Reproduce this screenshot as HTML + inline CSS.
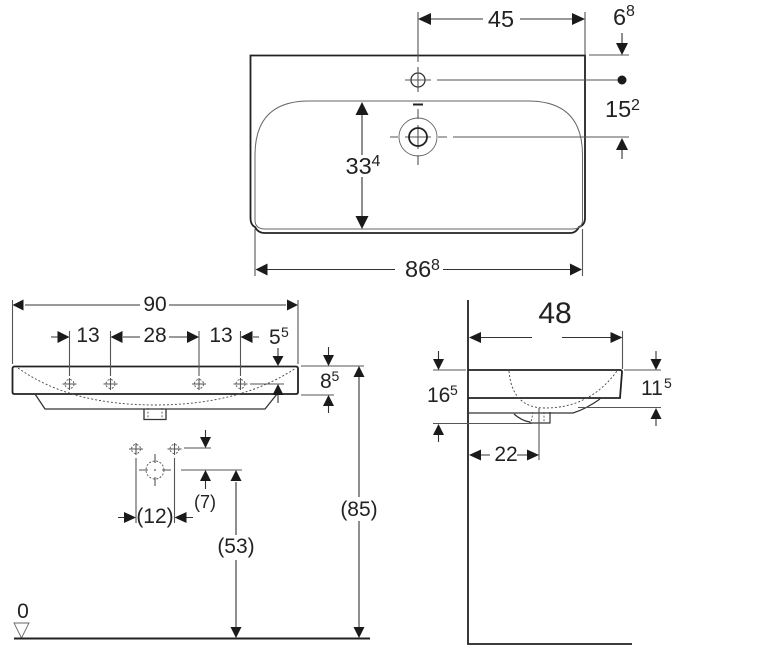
<!DOCTYPE html>
<html><head><meta charset="utf-8"><style>
html,body{margin:0;padding:0;background:#fff}
svg{display:block}
text{font-family:"Liberation Sans",sans-serif;fill:#222}
.t{font-size:23.5px}.s{font-size:16px}.m{font-size:21px}.u{font-size:14px}
.l{stroke:#555;stroke-width:1.1;fill:none}
.d{stroke:#333;stroke-width:1.1;fill:none}
.k{stroke:#222;stroke-width:1.8;fill:none}
.o{stroke:#666;stroke-width:.9;fill:none}
.h{stroke:#555;stroke-width:.9;fill:none;stroke-dasharray:2 1.6}
.a{fill:#1a1a1a;stroke:none}
</style></head><body>
<svg width="780" height="650" viewBox="0 0 780 650" xmlns="http://www.w3.org/2000/svg">
<defs>
<g id="x"><circle r="4.5" class="h"/><path d="M-7 0H7M0-6V6" class="l"/></g>
</defs>

<!-- TOP VIEW -->
<path d="M250.500 218V55.500H585V218Q585 225 579 227Q576 233 570 233H265Q258 233 255 227Q250.500 225 250.500 218Z" class="k"/>
<path d="M255 220V155Q255 101 309 101H528Q582.500 101 582.500 155V220Q582.500 229 572 229H265Q255 229 255 220Z" class="o" style="stroke-width:1"/>
<path d="M418 12V62M585 12V55M589 55H629M437 80H622M453 137H629M255 229V276M582.500 229V276" class="l"/>
<path d="M431 19H483M520 19H573M622 33V44M622 150V159M362 114V155M362 177V217M267 269.500H395M443 269.500H570" class="d"/>
<path class="a" d="M418 19l13-6v12zM585 19l-13-6v12zM622 55l-6-12h12zM622 138l-6 12h12zM362 102l-6.500 13h13zM362 229l-6.500-13h13zM255.500 269.500l12-6v12zM582 269.500l-12-6v12z"/>
<circle cx="622" cy="80" r="4.500" class="a"/>
<circle cx="418" cy="80" r="7" class="d" style="stroke-width:1.300"/>
<path d="M405 80H431M418 67V92M390 137H398M405 137H431M438 137H447M418 109V119M418 125V149M418 155V165" class="l"/>
<path d="M413 104.500H423" stroke="#222" stroke-width="2"/>
<circle cx="418" cy="137" r="19" class="o"/>
<circle cx="418" cy="137" r="9" fill="none" stroke="#222" stroke-width="1.800"/>
<text x="501" y="27" text-anchor="middle" class="t">45</text>
<text x="613" y="25" class="t">6</text><text x="626" y="16" class="s">8</text>
<text x="605" y="117" class="t">15</text><text x="631" y="110" class="s">2</text>
<text x="345.500" y="174" class="t">33</text><text x="371.500" y="166" class="s">4</text>
<text x="405" y="277" class="t">86</text><text x="431" y="270" class="s">8</text>

<!-- FRONT VIEW -->
<path d="M14.500 366.500H296Q298 366.500 298 369V392Q298 394 296 394H14.500Q12.500 394 12.500 392V369Q12.500 366.500 14.500 366.500Z" class="k"/>
<path d="M35 394L45 409H265L277 394M144 409V419.500H166V409" stroke="#333" stroke-width="1.300" fill="none"/>
<path d="M18 368Q70 405 155 405Q240 405 296 368" fill="none" stroke="#444" stroke-width=".9" stroke-dasharray="2 2"/>
<path d="M148 408V419M162 408V419" class="h"/>
<path d="M12.500 300V364M298 300V364M69.500 331V376M110.500 331V376M199 331V376M240.500 331V376M250 384H284M301 366H364M301 395H334" class="l"/>
<path d="M25 305H140M169 305H286M51 337H58M123 337H140M169 337H189M253 337H259M278 348V358M278 395V403M328.500 347V356M328.500 405V413M359 377V497M359 521V628" class="d"/>
<path class="a" d="M12.500 305l11-5.500v11zM298 305l-11-5.500v11zM69.500 337l-12-6v12zM110.500 337l12-6v12zM199 337l-12-6v12zM240.500 337l12-6v12zM278 366l-5.500-10h11zM278 384l-5.500 11h11zM328.500 366l-5.500-11h11zM328.500 395l-5.500 11h11zM359 366l-5.500 11h11zM359 638l-5.500-11h11z"/>
<use href="#x" x="69.500" y="384"/><use href="#x" x="110.500" y="384"/><use href="#x" x="199" y="384"/><use href="#x" x="240.500" y="384"/>
<text x="88" y="342" text-anchor="middle" class="m">13</text>
<text x="155" y="342" text-anchor="middle" class="m">28</text>
<text x="221" y="342" text-anchor="middle" class="m">13</text>
<text x="155" y="311" text-anchor="middle" class="m">90</text>
<text x="269" y="344" class="m">5</text><text x="281" y="337" class="u">5</text>
<text x="320" y="388" class="m">8</text><text x="331.500" y="381" class="u">5</text>
<text x="359" y="516" text-anchor="middle" class="m">(85)</text>

<!-- Lower fixtures -->
<use href="#x" x="136" y="449"/><use href="#x" x="174.500" y="449"/>
<circle cx="155" cy="470" r="9" class="h"/>
<circle cx="155" cy="470" r=".8" class="a"/>
<path d="M139 470H148M162 470H171M155 454V463M155 477V486M136 458V523M174.500 458V523M184 448H211M181 470H242" class="l"/>
<path d="M205.500 430V438M205.500 481V489M236 482V535M236 560V628M118 517.500H125M186 517.500H193" class="d"/>
<path class="a" d="M205.500 448l-5.500-11h11zM205.500 470l-5.500 11h11zM236 470l-5.500 11h11zM236 638l-5.500-11h11zM136 517.500l-12-5.500v11zM174.500 517.500l12-5.500v11z"/>
<text x="205" y="508" text-anchor="middle" font-size="18">(7)</text>
<text x="155" y="523" text-anchor="middle" class="m">(12)</text>
<text x="236" y="553" text-anchor="middle" class="m">(53)</text>
<text x="23" y="618" text-anchor="middle" class="m">0</text>
<path d="M14 623H29L21.500 638Z" class="o"/>
<path d="M14 638.500H370" stroke="#222" stroke-width="2"/>

<!-- SIDE VIEW -->
<path d="M468 300V644H632" fill="none" stroke="#222" stroke-width="1.800"/>
<path d="M468 370H620Q622 370 622 372L620 398H468" class="k"/>
<path d="M468 413H573Q586 409 600 399" stroke="#333" stroke-width="1.200" fill="none"/>
<path d="M514 414Q522 421 530 422V423H550V412" stroke="#333" stroke-width="1.200" fill="none"/>
<path d="M509 371Q512 408 545 408Q590 408 617 371" fill="none" stroke="#444" stroke-width=".9" stroke-dasharray="2 2"/>
<path d="M533 412L531 423M544 412V423" class="h"/>
<path d="M622.500 331V369M433 370H466M624 370H661M433 423.500H532M578 407.500H661M539 408V460" class="l"/>
<path d="M480 337.500H532M562 337.500H612M438.500 351V361M438.500 434V442M656 351V361M656 418V426M480 455H490M517 455H529" class="d"/>
<path class="a" d="M469 337.500l12-5.500v11zM622.500 337.500l-12-5.500v11zM438.500 370l-5.500-11h11zM438.500 424l-5.500 11h11zM656 370l-5.500-11h11zM656 408l-5.500 11h11zM469 455l12-5.500v11zM539 455l-12-5.500v11z"/>
<text x="555" y="323" text-anchor="middle" font-size="30">48</text>
<text x="427" y="402" class="m">16</text><text x="450" y="395" class="u">5</text>
<text x="641" y="395" class="m">11</text><text x="664" y="388" class="u">5</text>
<text x="506" y="461" text-anchor="middle" class="m">22</text>
</svg>
</body></html>
